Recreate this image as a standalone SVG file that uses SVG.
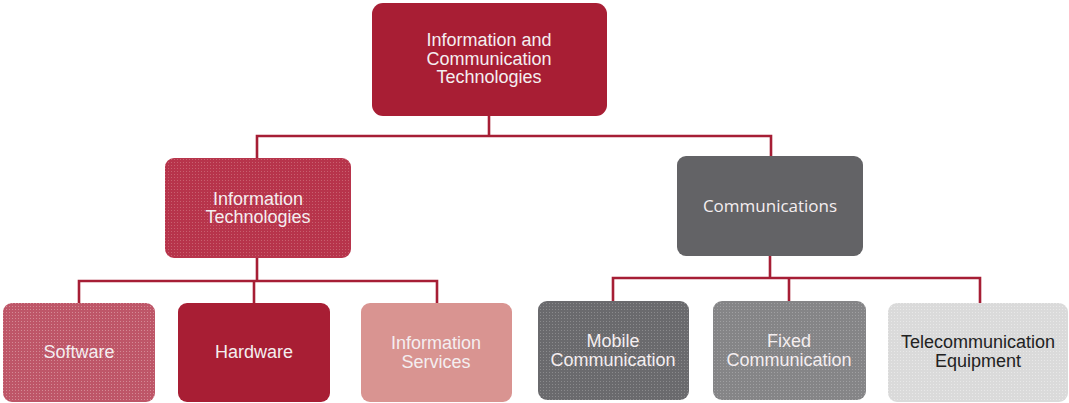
<svg xmlns="http://www.w3.org/2000/svg" width="1069" height="403" viewBox="0 0 1069 403">
<style>
.t{font-family:"Liberation Sans",Arial,sans-serif;font-size:18px;fill:#f4eef0;text-anchor:middle}
.d{fill:#222}
.c{font-family:"Open Sans","Liberation Sans",sans-serif;font-size:17px}
.ln{fill:none;stroke:#A61E35;stroke-width:2.6}
</style>
<defs>
<pattern id="pIT" width="3" height="3" patternUnits="userSpaceOnUse"><rect width="3" height="3" fill="#B7344B"/><rect width="1" height="1" fill="#C8606F"/></pattern>
<pattern id="pSW" width="3" height="3" patternUnits="userSpaceOnUse"><rect width="3" height="3" fill="#BE5668"/><rect width="1" height="1" fill="#D48A95"/></pattern>
<pattern id="pMob" width="3" height="3" patternUnits="userSpaceOnUse"><rect width="3" height="3" fill="#6A6A6D"/><rect width="1" height="1" fill="#8A8A8C"/></pattern>
<pattern id="pFix" width="3" height="3" patternUnits="userSpaceOnUse"><rect width="3" height="3" fill="#858587"/><rect width="1" height="1" fill="#A0A0A2"/></pattern>
<pattern id="pTel" width="3" height="3" patternUnits="userSpaceOnUse"><rect width="3" height="3" fill="#DADADA"/><rect width="1" height="1" fill="#E8E8E8"/></pattern>
</defs>
<g id="connectors">
<path class="ln" d="M489 116V136M257 158V136H771V156"/>
<path class="ln" d="M257 258V281M79 303V281H437V303M254 281V303"/>
<path class="ln" d="M770 256V278M613 301V278H980V303M789 278V301"/>
</g>
<g id="ict"><rect x="372" y="3" width="235" height="113" rx="11" fill="#A81E34"/>
<text class="t" x="489" y="46">Information and</text><text class="t" x="489" y="65">Communication</text><text class="t" x="489" y="83">Technologies</text></g>
<g id="it"><rect x="165" y="158" width="186" height="100" rx="9" fill="url(#pIT)"/>
<text class="t" x="258" y="205">Information</text><text class="t" x="258" y="223">Technologies</text></g>
<g id="comm"><rect x="677" y="156" width="186" height="100" rx="9" fill="#636366"/>
<text class="t c" x="770" y="212">Communications</text></g>
<g id="software"><rect x="3" y="303" width="152" height="99" rx="9" fill="url(#pSW)"/>
<text class="t" x="79" y="358">Software</text></g>
<g id="hardware"><rect x="178" y="303" width="152" height="99" rx="9" fill="#A81E34"/>
<text class="t" x="254" y="358">Hardware</text></g>
<g id="infoserv"><rect x="361" y="303" width="151" height="99" rx="9" fill="#D99491"/>
<text class="t" x="436" y="349">Information</text><text class="t" x="436" y="368">Services</text></g>
<g id="mobile"><rect x="538" y="301" width="151" height="99" rx="9" fill="url(#pMob)"/>
<text class="t" x="613" y="347">Mobile</text><text class="t" x="613" y="366">Communication</text></g>
<g id="fixed"><rect x="713" y="301" width="153" height="99" rx="9" fill="url(#pFix)"/>
<text class="t" x="789" y="347">Fixed</text><text class="t" x="789" y="366">Communication</text></g>
<g id="telecom"><rect x="888" y="303" width="180" height="99" rx="9" fill="url(#pTel)"/>
<text class="t d" x="978" y="348">Telecommunication</text><text class="t d" x="978" y="367">Equipment</text></g>
</svg>
